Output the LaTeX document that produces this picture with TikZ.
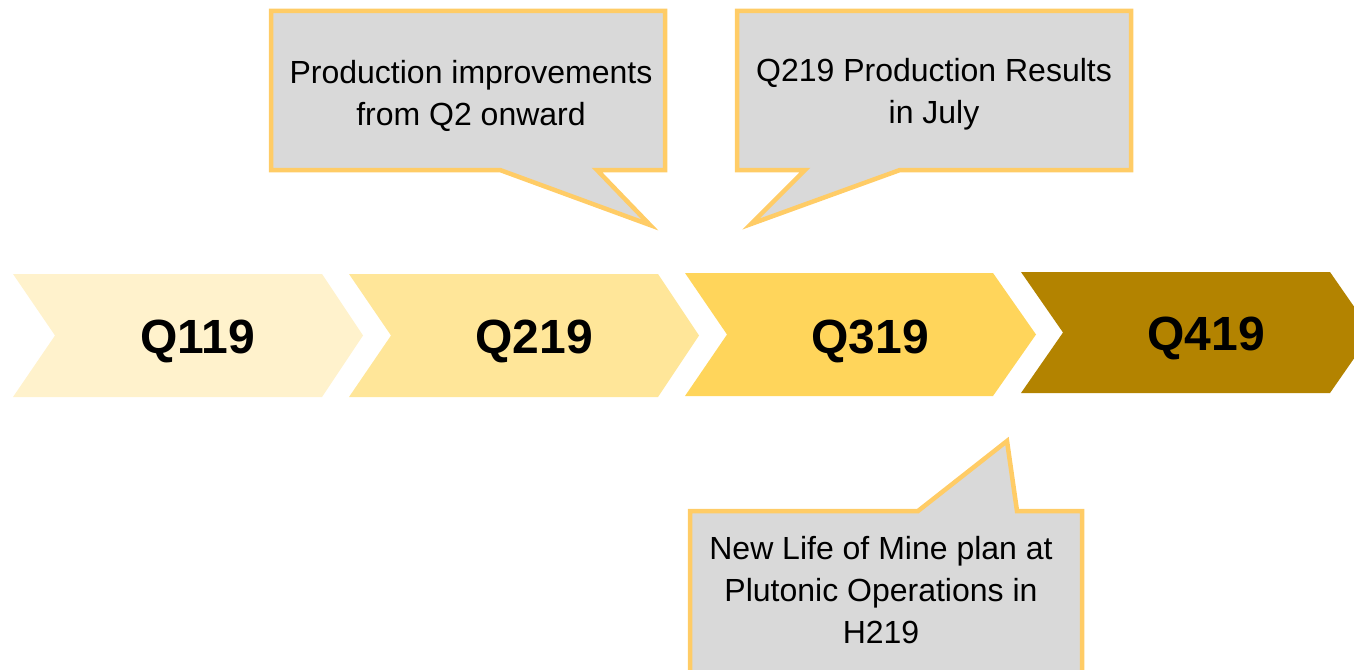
\documentclass[tikz,border=0pt]{standalone}
\usepackage{fontspec}
\setmainfont{Liberation Sans}
\definecolor{qone}{HTML}{FFF2CC}
\definecolor{qtwo}{HTML}{FFE699}
\definecolor{qthree}{HTML}{FFD55B}
\definecolor{qfour}{HTML}{B38300}
\definecolor{calloutfill}{HTML}{D9D9D9}
\definecolor{calloutline}{HTML}{FFCC66}
\begin{document}
\begin{tikzpicture}[x=1pt,y=-1pt,
  quarter/.style={anchor=base,font=\bfseries\fontsize{48}{48}\selectfont,text=black},
  callout/.style={fill=calloutfill,draw=calloutline,line width=4.5pt,line join=miter},
  callouttext/.style={align=center,font=\fontsize{32}{42}\selectfont,text=black}]
\useasboundingbox (0,0) rectangle (1354,669);

% timeline chevrons
\fill[qone]   (13,274) -- (322,274) -- (363,335.5) -- (322,397) -- (13,397) -- (55,335.5) -- cycle;
\fill[qtwo]   (349,274) -- (658,274) -- (699,335.5) -- (658,397) -- (349,397) -- (391,335.5) -- cycle;
\fill[qthree] (685,273) -- (993,273) -- (1036,334.5) -- (993,396) -- (685,396) -- (727,334.5) -- cycle;
\fill[qfour]  (1021,272) -- (1330,272) -- (1372,332.5) -- (1330,393) -- (1021,393) -- (1063,332.5) -- cycle;

\node[quarter] (q1) at (197.5,353) {Q119};
\node[quarter] (q2) at (534,353) {Q219};
\node[quarter] (q3) at (870,353) {Q319};
\node[quarter] (q4) at (1206,350.5) {Q419};

% speech bubbles
\draw[callout] (271,11) -- (665,11) -- (665,170) -- (597,170) -- (650,225) -- (500,170) -- (271,170) -- cycle;
\node[callouttext] (c1) at (471,95.5) {Production improvements\\from Q2 onward};

\draw[callout] (737,11) -- (1131,11) -- (1131,170) -- (900,170) -- (751,224) -- (805,170) -- (737,170) -- cycle;
\node[callouttext] (c2) at (934,94) {Q219 Production Results\\in July};

\draw[callout] (690,511) -- (918,511) -- (1007,441) -- (1017,511) -- (1082,511) -- (1082,674) -- (690,674) -- cycle;
\node[callouttext] (c3) at (881,590) {New Life of Mine plan at\\Plutonic Operations in\\H219};
\end{tikzpicture}
\end{document}
